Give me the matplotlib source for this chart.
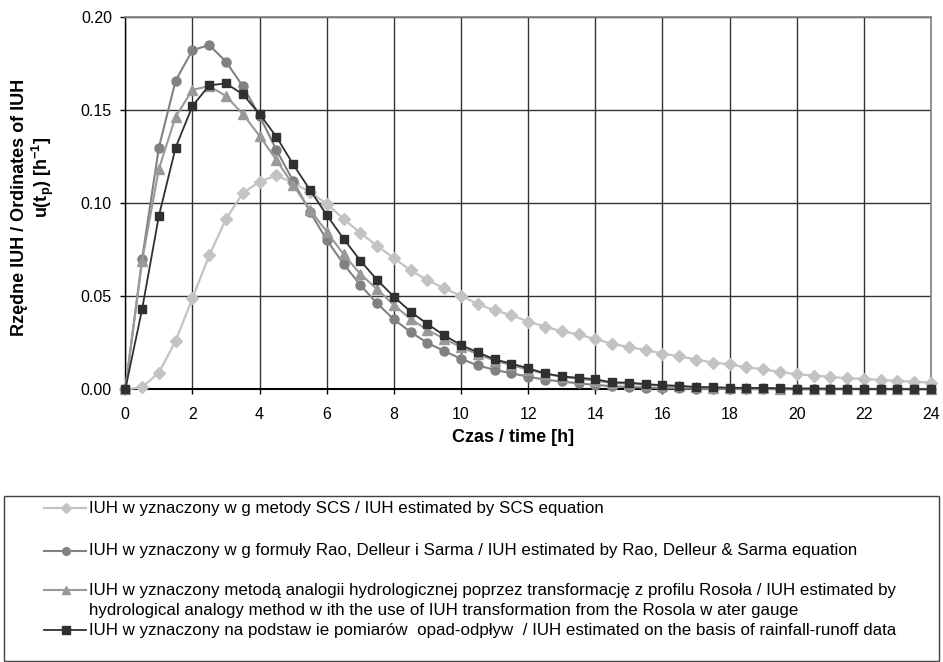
import numpy as np
import matplotlib
matplotlib.use("Agg")
import matplotlib.pyplot as plt
from matplotlib.lines import Line2D
from matplotlib.patches import Rectangle

plt.rcParams['font.family'] = ['Liberation Sans', 'DejaVu Sans']
plt.rcParams['mathtext.fontset'] = 'custom'
plt.rcParams['mathtext.rm'] = 'Liberation Sans'
plt.rcParams['mathtext.bf'] = 'Liberation Sans:bold'
plt.rcParams['mathtext.it'] = 'Liberation Sans:italic'

# ---------------- data ----------------
time_h = [i * 0.5 for i in range(49)]

iuh_scs = [0.0, 0.001, 0.009, 0.026, 0.049, 0.072, 0.0915, 0.1055, 0.1116, 0.115,
           0.111, 0.106, 0.0998, 0.0916, 0.0841, 0.0771, 0.0706, 0.0639, 0.0587, 0.0543,
           0.0502, 0.0459, 0.0424, 0.0399, 0.0364, 0.0337, 0.0312, 0.0295, 0.0270, 0.0245,
           0.0227, 0.0211, 0.0192, 0.0177, 0.0160, 0.0144, 0.0134, 0.0118, 0.0108, 0.0093,
           0.0081, 0.0074, 0.0067, 0.0059, 0.0057, 0.0050, 0.0045, 0.0041, 0.0036]

iuh_rao = [0.0, 0.070, 0.130, 0.166, 0.1823, 0.1851, 0.1761, 0.163, 0.147, 0.1287,
           0.112, 0.0955, 0.0803, 0.0674, 0.0561, 0.0462, 0.0376, 0.0308, 0.0249, 0.0206,
           0.0164, 0.0128, 0.0105, 0.0086, 0.0068, 0.0052, 0.0042, 0.0032, 0.0024, 0.0016,
           0.0012, 0.0009, 0.0006, 0.0005, 0.0003, 0.0002, 0.0002, 0.0001, 0.0001, 0.0001,
           0.0, 0.0, 0.0, 0.0, 0.0, 0.0, 0.0, 0.0, 0.0]

iuh_rosola = [0.0, 0.069, 0.1185, 0.1466, 0.161, 0.163, 0.1577, 0.148, 0.1362, 0.1233,
              0.1098, 0.0965, 0.0848, 0.0726, 0.062, 0.0538, 0.0453, 0.0378, 0.0319, 0.0272,
              0.0226, 0.0189, 0.0154, 0.0130, 0.0105, 0.0084, 0.0067, 0.0057, 0.0046, 0.0034,
              0.0030, 0.0024, 0.0019, 0.0016, 0.0011, 0.0009, 0.0007, 0.0006, 0.0005, 0.0004,
              0.0003, 0.0003, 0.0002, 0.0002, 0.0002, 0.0001, 0.0001, 0.0001, 0.0001]

iuh_measured = [0.0, 0.043, 0.0932, 0.130, 0.1523, 0.1634, 0.1645, 0.1586, 0.148, 0.1358,
                0.121, 0.1072, 0.0937, 0.081, 0.0692, 0.0588, 0.0498, 0.0417, 0.0351, 0.029,
                0.0238, 0.0199, 0.0161, 0.0138, 0.0113, 0.0086, 0.0069, 0.0062, 0.0054, 0.0037,
                0.0036, 0.0028, 0.0022, 0.0019, 0.0012, 0.0011, 0.0008, 0.0008, 0.0007, 0.0005,
                0.0004, 0.0004, 0.0003, 0.0003, 0.0002, 0.0002, 0.0002, 0.0001, 0.0001]

x_ticks = list(range(0, 25, 2))
y_ticks = [0.0, 0.05, 0.10, 0.15, 0.20]

legend_labels = [
    "IUH w yznaczony w g metody SCS / IUH estimated by SCS equation",
    "IUH w yznaczony w g formuły Rao, Delleur i Sarma / IUH estimated by Rao, Delleur & Sarma equation",
    "IUH w yznaczony metodą analogii hydrologicznej poprzez transformację z profilu Rosoła / IUH estimated by\n"
    "hydrological analogy method w ith the use of IUH transformation from the Rosola w ater gauge",
    "IUH w yznaczony na podstaw ie pomiarów  opad-odpływ  / IUH estimated on the basis of rainfall-runoff data",
]

# ---------------- styles ----------------
styles = [
    dict(color='#c3c3c3', marker='D', ms=5.8, lw=1.6),
    dict(color='#818181', marker='o', ms=6.5, lw=1.5),
    dict(color='#999999', marker='^', ms=7.5, lw=1.5),
    dict(color='#303030', marker='s', ms=6.3, lw=1.3),
]
series = [iuh_scs, iuh_rao, iuh_rosola, iuh_measured]

W, H = 943, 662
fig = plt.figure(figsize=(W / 100, H / 100), dpi=100)

def fx(px):
    return px / W

def fy(py):
    return 1 - py / H

ax_l, ax_r, ax_t, ax_b = 125.3, 931.0, 17.3, 389.3
ax = fig.add_axes([fx(ax_l), fy(ax_b), (ax_r - ax_l) / W, (ax_b - ax_t) / H])

for vals, st in zip(series, styles):
    ax.plot(time_h, vals, color=st['color'], lw=st['lw'], marker=st['marker'],
            ms=st['ms'], mfc=st['color'], mec=st['color'], clip_on=False, zorder=3)

ax.set_xlim(0, 24)
ax.set_ylim(0, 0.20)
ax.set_xticks(x_ticks)
ax.set_xticklabels([str(t) for t in x_ticks])
ax.set_yticks(y_ticks)
ax.set_yticklabels([f"{v:.2f}" for v in y_ticks])
ax.grid(True, color='#333333', lw=1.0, zorder=0)
ax.set_axisbelow(True)

for s in ['top', 'right']:
    ax.spines[s].set_color('#808080')
    ax.spines[s].set_linewidth(1.2)
ax.spines['left'].set_color('#000000')
ax.spines['bottom'].set_color('#000000')
ax.spines['bottom'].set_linewidth(1.5)
ax.spines['left'].set_linewidth(1.0)

ax.tick_params(axis='both', direction='out', length=3.6, width=1.0, colors='#000000',
               labelsize=11.5)
ax.tick_params(axis='x', pad=9)
ax.tick_params(axis='y', pad=6)

# axis titles
fig.text(fx(513), fy(438), "Czas / time [h]", ha='center', va='center',
         fontsize=13, fontweight='bold')
fig.text(fx(20), fy(207), "Rzędne IUH / Ordinates of IUH", rotation=90,
         ha='center', va='center', fontsize=13, fontweight='bold')
fig.text(fx(43), fy(177), r"u(t$_{\mathbf{p}}$) [h$^{\mathbf{-1}}$]", rotation=90,
         ha='center', va='center', fontsize=13, fontweight='bold')

# legend box (manual, to match the reference layout)
box = Rectangle((fx(3.5), fy(661)), fx(939) - fx(3.5), fy(496) - fy(661),
                transform=fig.transFigure, fill=False, edgecolor='#404040', lw=1.0)
fig.add_artist(box)

rows = [508.3, 551, 590, 630]
for lab, st, ry in zip(legend_labels, styles, rows):
    fig.add_artist(Line2D([fx(44), fx(86)], [fy(ry), fy(ry)], transform=fig.transFigure,
                          color=st['color'], lw=st['lw']))
    fig.add_artist(Line2D([fx(65.5)], [fy(ry)], transform=fig.transFigure,
                          marker=st['marker'], ms=st['ms'] * 0.85, color=st['color'],
                          mfc=st['color'], mec=st['color'], lw=0))
    lines = lab.split("\n")
    for k, ln in enumerate(lines):
        fig.text(fx(89), fy(ry + k * 21), ln, ha='left', va='center', fontsize=12.2)

fig.savefig("out.png", dpi=100)
